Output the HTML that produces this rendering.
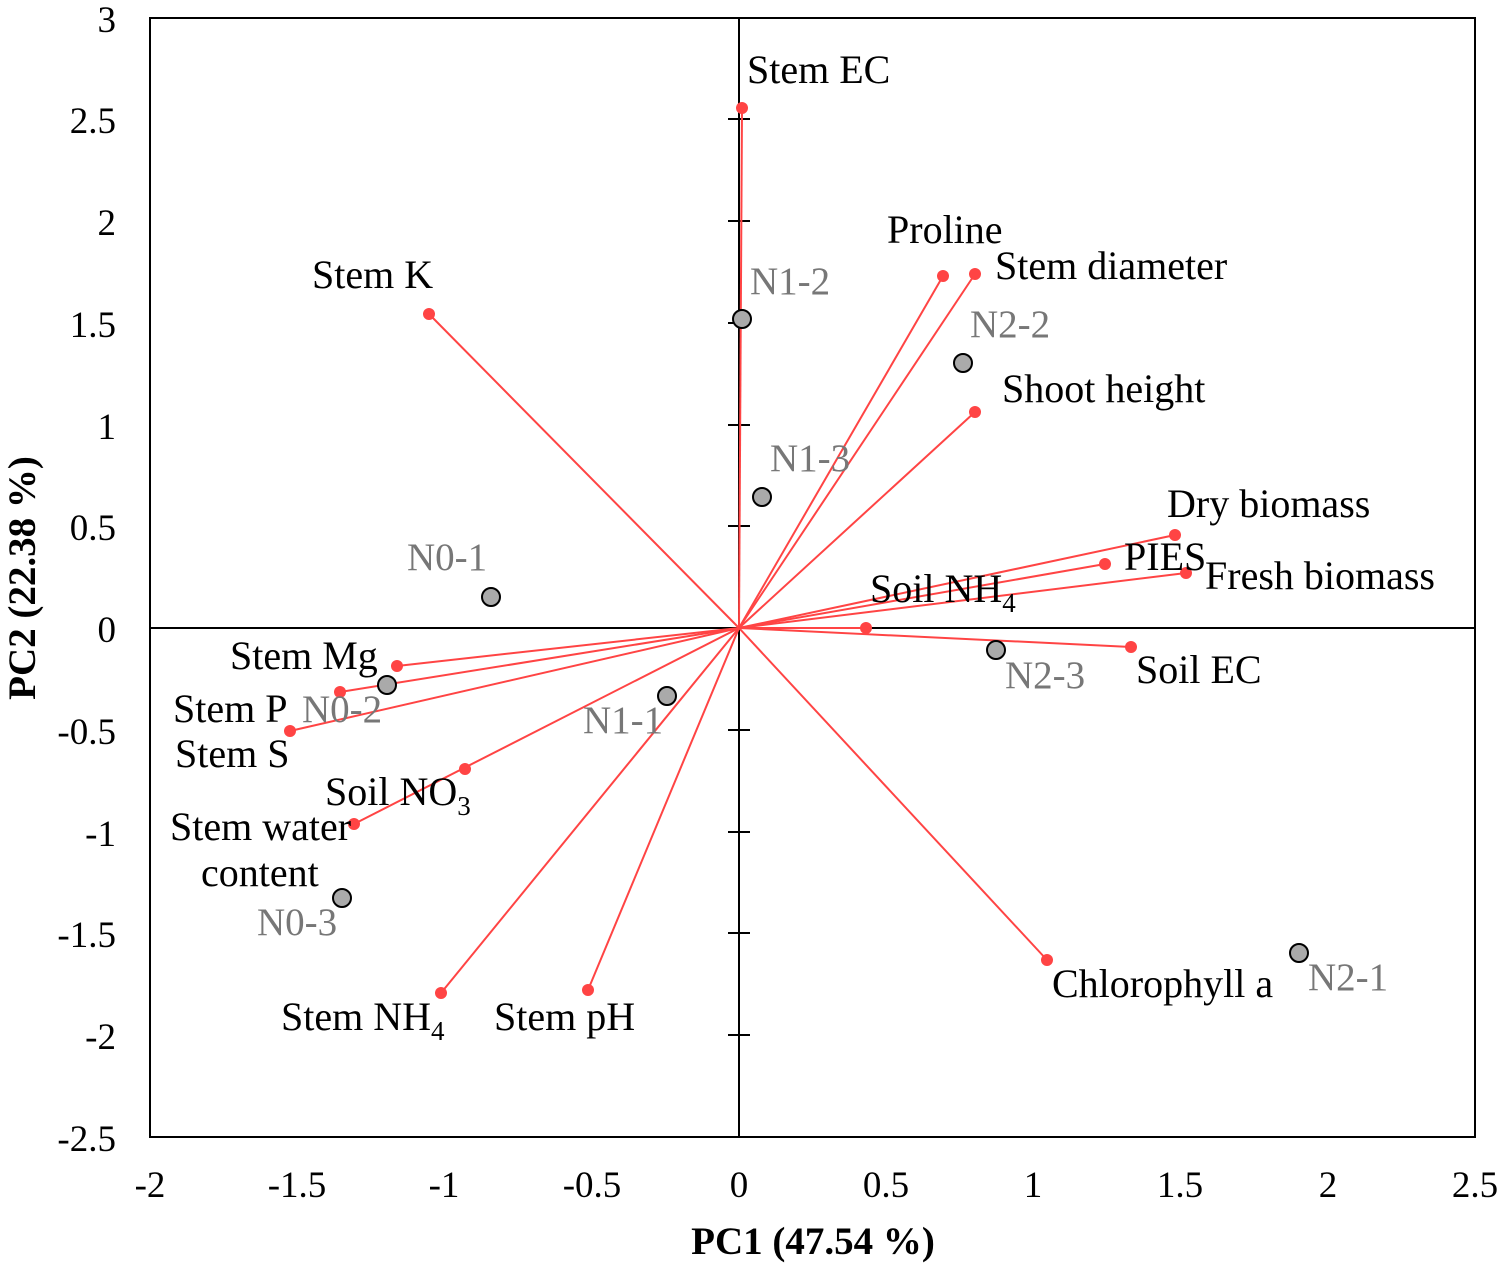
<!DOCTYPE html>
<html><head><style>body{margin:0;background:#fff}svg{display:block}</style></head><body>
<svg width="1502" height="1266" xmlns="http://www.w3.org/2000/svg" font-family="Liberation Serif, serif">
<rect x="150" y="18" width="1325" height="1119" fill="none" stroke="#000" stroke-width="2"/>
<line x1="739" y1="18" x2="739" y2="1137" stroke="#000" stroke-width="2"/>
<line x1="150" y1="628" x2="1475" y2="628" stroke="#000" stroke-width="2"/>
<g stroke="#000" stroke-width="2">
<line x1="728" y1="119" x2="750" y2="119"/><line x1="728" y1="221" x2="750" y2="221"/><line x1="728" y1="323" x2="750" y2="323"/><line x1="728" y1="425" x2="750" y2="425"/><line x1="728" y1="526" x2="750" y2="526"/><line x1="728" y1="730" x2="750" y2="730"/><line x1="728" y1="832" x2="750" y2="832"/><line x1="728" y1="933" x2="750" y2="933"/><line x1="728" y1="1035" x2="750" y2="1035"/>
</g>
<g font-size="37" text-anchor="end">
<text x="116" y="32">3</text><text x="116" y="133">2.5</text><text x="116" y="235">2</text><text x="116" y="337">1.5</text><text x="116" y="439">1</text><text x="116" y="540">0.5</text><text x="116" y="642">0</text><text x="116" y="744">-0.5</text><text x="116" y="846">-1</text><text x="116" y="947">-1.5</text><text x="116" y="1049">-2</text><text x="116" y="1151">-2.5</text>
</g>
<g font-size="37" text-anchor="middle">
<text x="150" y="1197">-2</text><text x="297" y="1197">-1.5</text><text x="444" y="1197">-1</text><text x="592" y="1197">-0.5</text><text x="739" y="1197">0</text><text x="886" y="1197">0.5</text><text x="1033" y="1197">1</text><text x="1180" y="1197">1.5</text><text x="1328" y="1197">2</text><text x="1475" y="1197">2.5</text>
</g>
<text x="813" y="1254" font-size="39" font-weight="bold" text-anchor="middle">PC1 (47.54 %)</text>
<text transform="translate(35,578) rotate(-90)" font-size="39" font-weight="bold" text-anchor="middle">PC2 (22.38 %)</text>
<g stroke="#f44" stroke-width="2">
<line x1="739" y1="628" x2="742" y2="108"/><line x1="739" y1="628" x2="429" y2="314"/><line x1="739" y1="628" x2="943" y2="276"/><line x1="739" y1="628" x2="975" y2="274"/><line x1="739" y1="628" x2="975" y2="412"/><line x1="739" y1="628" x2="1175" y2="535"/><line x1="739" y1="628" x2="1105" y2="564"/><line x1="739" y1="628" x2="1186" y2="573"/><line x1="739" y1="628" x2="866" y2="628"/><line x1="739" y1="628" x2="1131" y2="647"/><line x1="739" y1="628" x2="1047" y2="960"/><line x1="739" y1="628" x2="588" y2="990"/><line x1="739" y1="628" x2="441" y2="993"/><line x1="739" y1="628" x2="354" y2="824"/><line x1="739" y1="628" x2="397" y2="666"/><line x1="739" y1="628" x2="340" y2="692"/><line x1="739" y1="628" x2="290" y2="731"/>
</g>
<g fill="#f44">
<circle cx="742" cy="108" r="6"/><circle cx="429" cy="314" r="6"/><circle cx="943" cy="276" r="6"/><circle cx="975" cy="274" r="6"/><circle cx="975" cy="412" r="6"/><circle cx="1175" cy="535" r="6"/><circle cx="1105" cy="564" r="6"/><circle cx="1186" cy="573" r="6"/><circle cx="866" cy="628" r="6"/><circle cx="1131" cy="647" r="6"/><circle cx="1047" cy="960" r="6"/><circle cx="588" cy="990" r="6"/><circle cx="441" cy="993" r="6"/><circle cx="354" cy="824" r="6"/><circle cx="465" cy="769" r="6"/><circle cx="397" cy="666" r="6"/><circle cx="340" cy="692" r="6"/><circle cx="290" cy="731" r="6"/>
</g>
<g fill="#aaa" stroke="#000" stroke-width="2">
<circle cx="742" cy="319" r="9"/><circle cx="963" cy="363" r="9"/><circle cx="762" cy="497" r="9"/><circle cx="491" cy="597" r="9"/><circle cx="387" cy="685" r="9"/><circle cx="667" cy="696" r="9"/><circle cx="996" cy="650" r="9"/><circle cx="342" cy="898" r="9"/><circle cx="1299" cy="953" r="9"/>
</g>
<g font-size="39" fill="#777">
<text x="750" y="294">N1-2</text><text x="970" y="337">N2-2</text><text x="770" y="471">N1-3</text><text x="407" y="570">N0-1</text><text x="302" y="722">N0-2</text><text x="583" y="733">N1-1</text><text x="1005" y="688">N2-3</text><text x="257" y="935">N0-3</text><text x="1308" y="990">N2-1</text>
</g>
<g font-size="40" fill="#000">
<text x="747" y="83">Stem EC</text><text x="312" y="288">Stem K</text><text x="887" y="243">Proline</text><text x="995" y="279">Stem diameter</text><text x="1002" y="402">Shoot height</text><text x="1167" y="517">Dry biomass</text><text x="1124" y="570">PIES</text><text x="1205" y="589">Fresh biomass</text><text x="870" y="602">Soil NH<tspan font-size="27" dy="10">4</tspan></text><text x="1136" y="683">Soil EC</text><text x="1052" y="997">Chlorophyll a</text><text x="494" y="1030">Stem pH</text><text x="281" y="1030">Stem NH<tspan font-size="27" dy="10">4</tspan></text><text x="170" y="840">Stem water</text><text x="201" y="886">content</text><text x="325" y="805">Soil NO<tspan font-size="27" dy="10">3</tspan></text><text x="230" y="669">Stem Mg</text><text x="173" y="722">Stem P</text><text x="175" y="767">Stem S</text>
</g>
</svg>
</body></html>
